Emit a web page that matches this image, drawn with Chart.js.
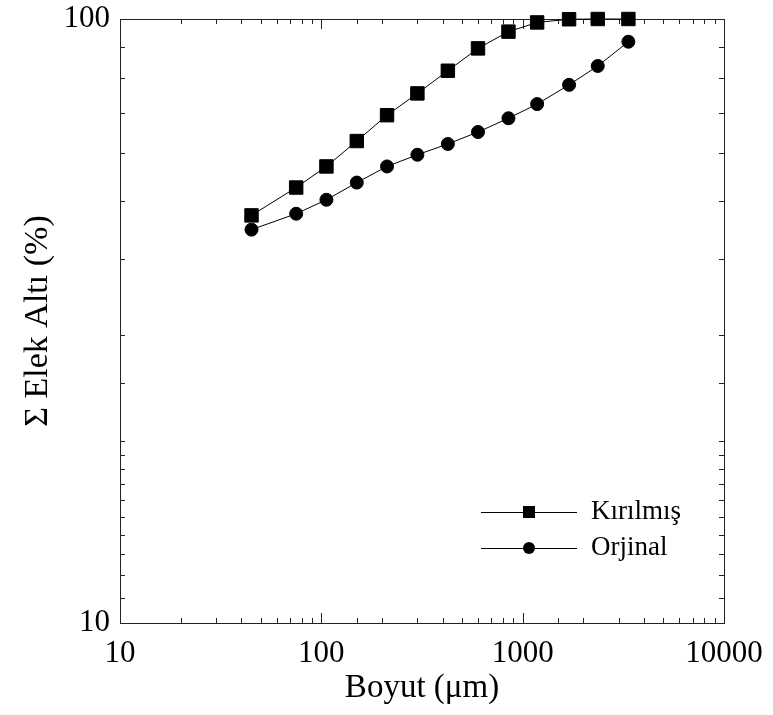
<!DOCTYPE html>
<html><head><meta charset="utf-8">
<script src="https://cdn.jsdelivr.net/npm/chart.js@4"></script>
<style>html,body{margin:0;padding:0;background:#fff}</style>
</head><body>
<canvas id="c" width="773" height="715"></canvas>
<script>
const sizes = [45, 75, 106, 150, 212, 300, 425, 600, 850, 1180, 1700, 2360, 3350];
const kirilmis = [47.3, 52.6, 57.0, 62.8, 69.3, 75.3, 82.1, 89.4, 95.3, 98.7, 99.9, 100, 100];
const orjinal = [44.8, 47.6, 50.2, 53.6, 57.0, 59.6, 62.1, 65.0, 68.5, 72.3, 77.8, 83.6, 91.7];
const xTickLabels = ['10', '100', '1000', '10000'];
const yTickLabels = ['10', '100'];
const seriesNames = ['Kırılmış', 'Orjinal'];

const FONT = "'Liberation Serif', 'Times New Roman', serif";

function pts(vals) { return sizes.map((s, i) => ({x: s, y: vals[i]})); }

const axisTicksPlugin = {
  id: 'axisTicks',
  beforeDatasetsDraw(chart) {
    const {ctx, chartArea: ca} = chart;
    const xs = chart.scales.x, ys = chart.scales.y;
    ctx.save();
    ctx.strokeStyle = '#222';
    ctx.lineWidth = 1;
    ctx.strokeRect(Math.round(ca.left) + 0.5, Math.round(ca.top) + 0.5,
      Math.round(ca.right - ca.left), Math.round(ca.bottom - ca.top));
    const isMajor = v => Math.abs(Math.log10(v) - Math.round(Math.log10(v))) < 1e-9;
    ctx.beginPath();
    xs.ticks.forEach(t => {
      const px = Math.round(xs.getPixelForValue(t.value)) + 0.5;
      const len = isMajor(t.value) ? 10 : 5;
      ctx.moveTo(px, ca.bottom); ctx.lineTo(px, ca.bottom - len);
      ctx.moveTo(px, ca.top); ctx.lineTo(px, ca.top + len);
    });
    ys.ticks.forEach(t => {
      const py = Math.round(ys.getPixelForValue(t.value)) + 0.5;
      const len = isMajor(t.value) ? 10 : 5;
      ctx.moveTo(ca.left, py); ctx.lineTo(ca.left + len, py);
      ctx.moveTo(ca.right, py); ctx.lineTo(ca.right - len, py);
    });
    ctx.stroke();
    ctx.restore();
  }
};

const legendPlugin = {
  id: 'innerLegend',
  afterDatasetsDraw(chart) {
    const {ctx, chartArea: ca} = chart;
    const x1 = ca.right - 243, x2 = ca.right - 147, mx = (x1 + x2) / 2, tx = ca.right - 133;
    const rows = [ca.top + 493, ca.top + 529];
    ctx.save();
    chart.data.datasets.forEach((ds, i) => {
      const y = rows[i];
      ctx.strokeStyle = '#000'; ctx.lineWidth = 1;
      ctx.beginPath(); ctx.moveTo(x1, y + 0.5); ctx.lineTo(x2, y + 0.5); ctx.stroke();
      ctx.fillStyle = '#000';
      if (ds.pointStyle === 'rect') {
        ctx.fillRect(mx - 6, y - 6, 12, 12);
      } else {
        ctx.beginPath(); ctx.arc(mx, y, 6, 0, Math.PI * 2); ctx.fill();
      }
      ctx.font = "27px " + FONT;
      ctx.textBaseline = 'middle';
      ctx.textAlign = 'left';
      ctx.fillText(ds.label, tx, y);
    });
    ctx.restore();
  }
};

new Chart(document.getElementById('c'), {
  type: 'line',
  data: {
    datasets: [
      {label: seriesNames[0], data: pts(kirilmis), pointStyle: 'rect', pointRadius: 9.5,
       borderColor: '#000', backgroundColor: '#000', borderWidth: 1, pointBorderWidth: 1, clip: false, tension: 0},
      {label: seriesNames[1], data: pts(orjinal), pointStyle: 'circle', pointRadius: 6.5,
       borderColor: '#000', backgroundColor: '#000', borderWidth: 1, pointBorderWidth: 1, clip: false, tension: 0}
    ]
  },
  options: {
    responsive: false,
    animation: false,
    devicePixelRatio: 1,
    layout: {padding: {top: 19, right: 49, left: 0, bottom: 0}},
    plugins: {legend: {display: false}, tooltip: {enabled: false}},
    scales: {
      x: {
        type: 'logarithmic', min: 10, max: 10000,
        grid: {display: false, drawTicks: false}, border: {display: false},
        ticks: {autoSkip: false, maxRotation: 0, padding: 12, color: '#000',
          font: {family: FONT, size: 31},
          callback: v => xTickLabels.includes(String(v)) ? String(v) : ''},
        title: {display: true, text: 'Boyut (μm)', color: '#000', font: {family: FONT, size: 33},
          padding: {top: 0, bottom: 7}},
        afterFit: s => { s.height = 92; s.paddingLeft = 0; s.paddingRight = 0; }
      },
      y: {
        type: 'logarithmic', min: 10, max: 100,
        grid: {display: false, drawTicks: false}, border: {display: false},
        ticks: {autoSkip: false, padding: 10, color: '#000',
          font: {family: FONT, size: 31},
          callback: v => yTickLabels.includes(String(v)) ? String(v) : ''},
        title: {display: true, text: 'Σ Elek Altı (%)', color: '#000', font: {family: FONT, size: 34},
          padding: {top: 18, bottom: 0}},
        afterFit: s => { s.width = 120; s.paddingTop = 0; s.paddingBottom = 0; }
      }
    }
  },
  plugins: [axisTicksPlugin, legendPlugin]
});
</script>
</body></html>
